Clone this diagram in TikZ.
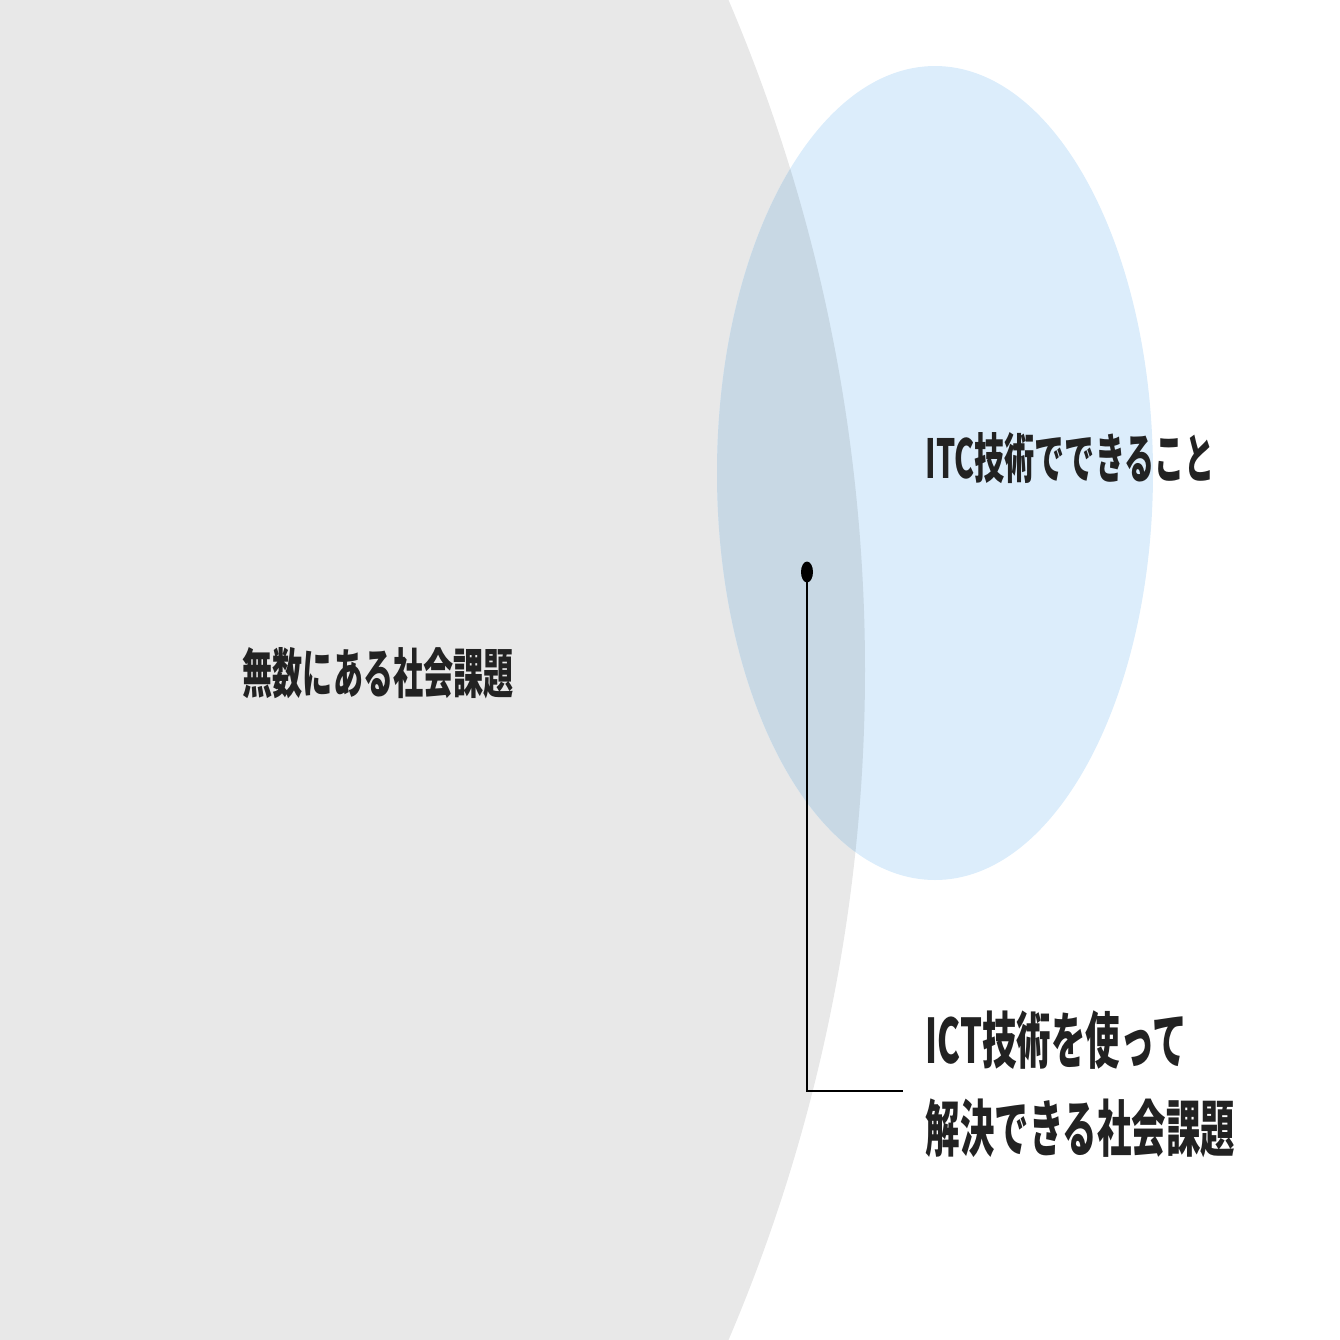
\documentclass[tikz,border=0pt]{standalone}
\usepackage{fontspec}
\newfontfamily\jpfont{Noto Sans CJK JP}[FakeStretch=0.56]
\usetikzlibrary{positioning}
\definecolor{issuegray}{HTML}{E8E8E8}
\definecolor{ictblue}{HTML}{DCEDFB}
\definecolor{overlapblue}{HTML}{C8D8E4}
\definecolor{labeltext}{HTML}{222222}

\begin{document}
\begin{tikzpicture}[
    x=0.1mm, y=-0.1mm,
    areatext/.style={inner sep=0, anchor=base west, text=labeltext, font=\jpfont\bfseries\fontsize{15.3}{18}\selectfont},
    calltext/.style={inner sep=0, anchor=base west, text=labeltext, font=\jpfont\bfseries\fontsize{17.5}{21}\selectfont},
    leader/.style={line width=0.8pt, black}
]

\useasboundingbox (0,0) rectangle (1340,1340);
\clip (0,0) rectangle (1340,1340);

% the two areas and their overlap
\fill[issuegray] (-842,670) circle[radius=1707];
\fill[ictblue] (935,473) ellipse[x radius=218, y radius=407];
\begin{scope}
  \clip (-842,670) circle[radius=1707];
  \fill[overlapblue] (935,473) ellipse[x radius=218, y radius=407];
\end{scope}

\node[areatext] (issues) at (242,693) {無数にある社会課題};
\node[areatext] (ict) at (925,478) {ITC技術でできること};
\node[calltext] (solved) at (925,1063) {ICT技術を使って};
\node[calltext] (solved2) at (925,1151) {解決できる社会課題};

% leader line
\coordinate (pin) at (807,572);
\coordinate (lead) at (903,1091);
\fill (pin) ellipse[x radius=6, y radius=10.5];
\draw[leader] (pin) |- (lead);

\end{tikzpicture}
\end{document}
